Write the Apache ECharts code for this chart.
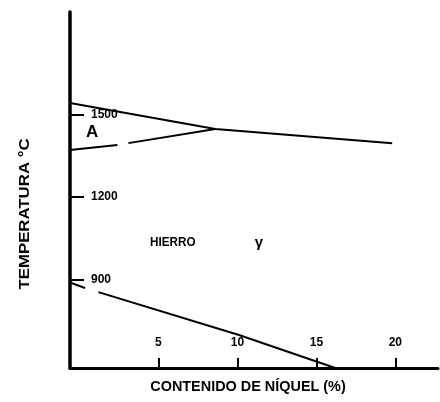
<!DOCTYPE html>
<html><head><meta charset="utf-8">
<script src="https://cdn.jsdelivr.net/npm/echarts@6/dist/echarts.min.js"></script>
<style>html,body{margin:0;padding:0;background:#fff}#c{width:440px;height:402px}</style>
</head><body><div id="c"></div>
<script>
// Data (nickel %, temperature °C)
const xTicks = [5, 10, 15, 20];
const yTicks = [900, 1200, 1500];
const upperNi = [-0.6, 8.6, 19.8];
const upperT  = [1542, 1447, 1396];
const lowerNiA = [-0.6, 2.4];
const lowerTA  = [1371, 1389];
const lowerNiB = [3.1, 8.6];
const lowerTB  = [1396, 1447];
const gammaNiA = [-0.6, 0.35];
const gammaTA  = [889, 869];
const gammaNiB = [1.2, 10.1, 16.2];
const gammaTB  = [854, 698, 578];

const FONT = '"Liberation Sans", Arial, sans-serif';
const zip = (a, b) => a.map((v, i) => [v, b[i]]);
const lineSeries = (xs, ys) => ({
  type: 'line', data: zip(xs, ys), symbol: 'none', silent: true,
  lineStyle: { color: '#000', width: 2 }
});

const chart = echarts.init(document.getElementById('c'), null, { renderer: 'canvas' });
chart.setOption({
  animation: false,
  backgroundColor: '#fff',
  grid: { left: 70, right: 2, top: 12, bottom: 34 },
  xAxis: {
    type: 'value', min: -0.6, max: 22.7,
    splitLine: { show: false },
    axisLine: { onZero: false, lineStyle: { color: '#000', width: 3 } },
    axisTick: { inside: true, length: 10, customValues: xTicks, lineStyle: { color: '#000', width: 2 } },
    axisLabel: { inside: true, margin: 19, customValues: xTicks, color: '#000', fontFamily: FONT, fontWeight: 'bold', fontSize: 12 }
  },
  yAxis: {
    type: 'value', min: 578, max: 1873,
    splitLine: { show: false },
    axisLine: { onZero: false, lineStyle: { color: '#000', width: 3.5 } },
    axisTick: { inside: true, length: 14, customValues: yTicks, lineStyle: { color: '#000', width: 2 } },
    axisLabel: { inside: true, margin: 21, customValues: yTicks, formatter: v => String(v), color: '#000', fontFamily: FONT, fontWeight: 'bold', fontSize: 12, align: 'left', padding: [4, 0, 0, 0] }
  },
  series: [
    lineSeries(upperNi, upperT),
    lineSeries(lowerNiA, lowerTA),
    lineSeries(lowerNiB, lowerTB),
    lineSeries(gammaNiA, gammaTA),
    lineSeries(gammaNiB, gammaTB)
  ],
  graphic: [
    { type: 'text', left: 86, top: 124, style: { text: 'A', font: 'bold 17px ' + FONT, fill: '#000' } },
    { type: 'text', x: 150, y: 242, scaleX: 0.9, style: { text: 'HIERRO', font: 'bold 13px ' + FONT, fill: '#000', verticalAlign: 'middle' } },
    { type: 'text', x: 259, y: 243, style: { text: 'γ', font: 'bold 15px ' + FONT, fill: '#000', align: 'center', verticalAlign: 'middle' } },
    { type: 'text', x: 248, y: 387, scaleX: 1.03, style: { text: 'CONTENIDO DE NÍQUEL (%)', font: 'bold 14px ' + FONT, fill: '#000', align: 'center', verticalAlign: 'middle' } },
    { type: 'text', x: 25, y: 214, rotation: Math.PI / 2, scaleX: 1.12, style: { text: 'TEMPERATURA °C', font: 'bold 15px ' + FONT, fill: '#000', align: 'center', verticalAlign: 'middle' } }
  ]
});
</script></body></html>
